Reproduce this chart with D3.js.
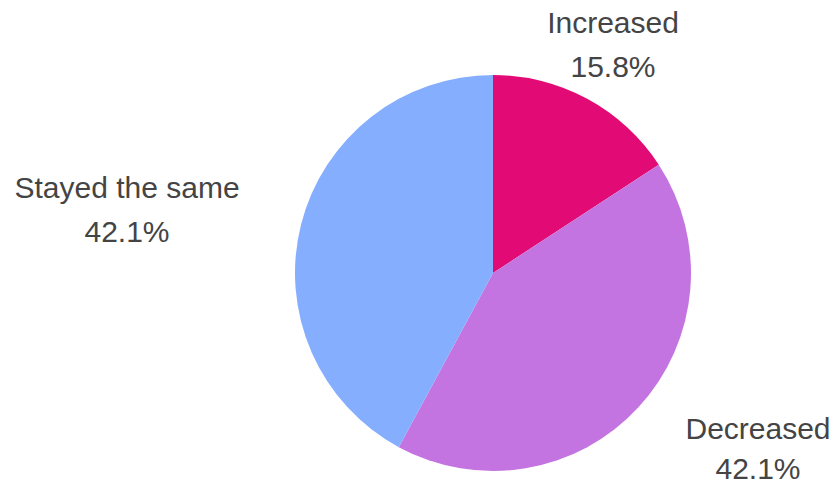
<!DOCTYPE html>
<html>
<head>
<meta charset="utf-8">
<script src="https://cdn.jsdelivr.net/npm/d3@7"></script>
<style>
  html, body { margin: 0; padding: 0; background: #ffffff; }
  svg { display: block; }
</style>
</head>
<body>
<svg id="chart" width="834" height="487"></svg>
<script>
// Data
const categories = ["Increased", "Decreased", "Stayed the same"];
const values = [3, 8, 8];
const colors = ["#E20A74", "#C474E0", "#86AEFF"];

// Layout (label block centres and line gaps, not data)
const labelCentres = {
  "Increased": [613, 44, 44],
  "Decreased": [758, 450, 40],
  "Stayed the same": [127, 209, 44]
};

const W = 834, H = 487;
const cx = 493, cy = 273, R = 198;
const svg = d3.select("#chart");

const total = d3.sum(values);
const pie = d3.pie().sort(null).value(d => d.value);
const arcs = pie(categories.map((c, i) => ({ name: c, value: values[i], color: colors[i] })));
const arc = d3.arc().innerRadius(0).outerRadius(R);

const g = svg.append("g").attr("transform", `translate(${cx},${cy})`);
g.selectAll("path").data(arcs).join("path")
  .attr("d", arc)
  .attr("fill", d => d.data.color);

const fmt = v => (v / total * 100).toFixed(1) + "%";
const labels = svg.selectAll("g.lbl").data(arcs).join("g").attr("class", "lbl")
  .attr("transform", d => `translate(${labelCentres[d.data.name][0]},${labelCentres[d.data.name][1]})`);
labels.append("text")
  .attr("text-anchor", "middle")
  .attr("font-family", "'Liberation Sans', Arial, sans-serif")
  .attr("font-size", 30)
  .attr("fill", "#444444")
  .attr("y", -11)
  .text(d => d.data.name);
labels.append("text")
  .attr("text-anchor", "middle")
  .attr("font-family", "'Liberation Sans', Arial, sans-serif")
  .attr("font-size", 30)
  .attr("fill", "#444444")
  .attr("y", d => -11 + labelCentres[d.data.name][2])
  .text(d => fmt(d.data.value));
</script>
</body>
</html>
